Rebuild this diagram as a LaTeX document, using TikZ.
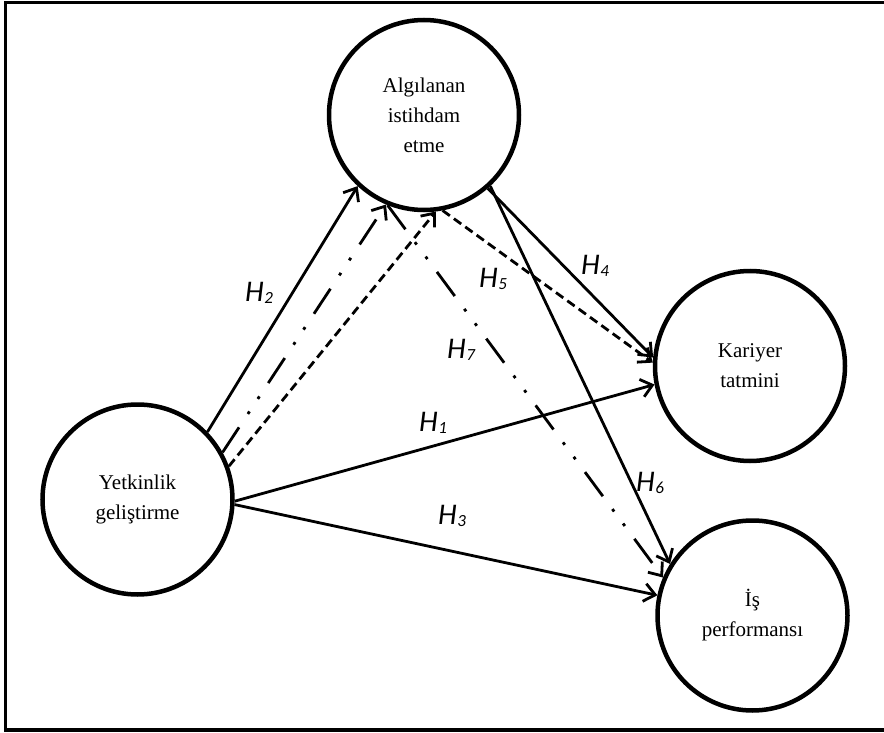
\documentclass[tikz,border=0pt]{standalone}
\usepackage{fontspec}
\setmainfont{Liberation Serif}
\newfontfamily\labfont{Carlito}
\usetikzlibrary{arrows.meta}
\newcommand{\Hlab}[1]{{\labfont\itshape\fontsize{30}{30}\selectfont H\kern0.5pt\raisebox{-1.5pt}{\fontsize{17}{17}\selectfont #1}}}
\begin{document}
\begin{tikzpicture}[x=1pt,y=-1pt,
  circ/.style={circle, draw, line width=4.5pt, minimum size=190pt, inner sep=0pt, align=center,
    font=\fontsize{21}{30}\selectfont},
  link/.style={line width=2.8pt, -{Straight Barb[length=11pt,width=18pt]}},
  dsh/.style={dash pattern=on 9pt off 5pt},
  ddot/.style={dash pattern=on 30pt off 16pt on 3pt off 15pt on 3pt off 16pt},
  lab/.style={inner sep=0pt}]
\useasboundingbox (0,0) rectangle (884,733);
\draw[line width=3.2pt] (884,2.5) -- (5.5,2.5) -- (5.5,730) -- (884,730);

\node[circ] (alg) at (424,115) {Algılanan\\istihdam\\etme};
\node[circ] (kar) at (750,366) {Kariyer\\tatmini};
\node[circ] (yet) at (137.5,499.5) {Yetkinlik\\geliştirme};
\node[circ] (is) at (752.5,615.5) {İş\\performansı};

\draw[link] (yet.44.6) -- (alg.227.4);
\draw[link,ddot] (yet.29.5) -- (alg.247.2);
\draw[link,dsh] (yet.20.9) -- (alg.277.7);
\draw[link] (yet.-1) -- (kar.191.3);
\draw[link] (yet.-3) -- (is.168.9);
\draw[link] (alg.-49.8) -- (kar.175.5);
\draw[link,dsh] (alg.281.7) -- (kar.178);
\draw[link] (alg.-47.1) -- (is.148.4);
\draw[link,ddot] (alg.248.1) -- (is.157.4);

\node[lab] (h2) at (259,293) {\Hlab{2}};
\node[lab] (h5) at (493,279) {\Hlab{5}};
\node[lab] (h4) at (595,266) {\Hlab{4}};
\node[lab] (h7) at (461,350) {\Hlab{7}};
\node[lab] (h1) at (433,423) {\Hlab{1}};
\node[lab] (h6) at (650,483) {\Hlab{6}};
\node[lab] (h3) at (452,516) {\Hlab{3}};
\end{tikzpicture}
\end{document}
